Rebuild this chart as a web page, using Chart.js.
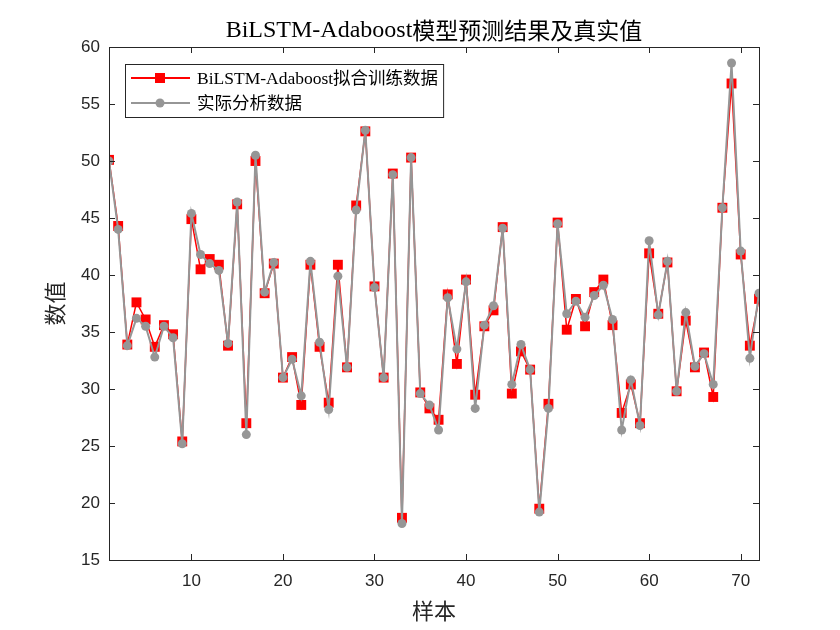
<!DOCTYPE html>
<html lang="zh">
<head>
    <meta charset="UTF-8">
    <title>BiLSTM-Adaboost模型预测结果及真实值</title>
    <style>
        body {
            margin: 0;
            background: #ffffff;
        }
        #wrap {
            width: 840px;
            height: 630px;
        }
    </style>
    <script src="https://cdn.jsdelivr.net/npm/chart.js"></script>
</head>
<body>

    <div id="wrap"><canvas id="resultChart"></canvas></div>

    <script>
        // sample numbers on the x axis
        const samples = Array.from({ length: 72 }, (_, i) => i + 1);

        // BiLSTM-Adaboost fitted values
        const predicted = [
            50.1, 44.3, 33.9, 37.6, 36.1, 33.7, 35.6, 34.8, 25.4, 44.9,
            40.5, 41.4, 40.9, 33.8, 46.2, 27.0, 50.0, 38.4, 41.0, 31.0,
            32.8, 28.6, 40.9, 33.7, 28.8, 40.9, 31.9, 46.1, 52.6, 39.0,
            31.0, 48.9, 18.7, 50.3, 29.7, 28.3, 27.3, 38.3, 32.2, 39.6,
            29.5, 35.5, 36.9, 44.2, 29.6, 33.3, 31.7, 19.5, 28.7, 44.6,
            35.2, 37.9, 35.5, 38.5, 39.6, 35.6, 27.9, 30.4, 27.0, 41.9,
            36.6, 41.1, 29.8, 36.0, 31.9, 33.2, 29.3, 45.9, 56.8, 41.8,
            33.8, 37.9
        ];

        // measured values
        const actual = [
            50.0, 44.0, 33.8, 36.2, 35.5, 32.8, 35.5, 34.5, 25.2, 45.4,
            41.8, 41.0, 40.4, 34.0, 46.4, 26.0, 50.5, 38.5, 41.1, 31.0,
            32.6, 29.4, 41.2, 34.1, 28.2, 39.9, 31.9, 45.7, 52.7, 38.9,
            31.0, 48.8, 18.2, 50.3, 29.6, 28.6, 26.4, 38.0, 33.5, 39.4,
            28.3, 35.6, 37.3, 44.1, 30.4, 33.9, 31.7, 19.2, 28.3, 44.5,
            36.6, 37.7, 36.3, 38.2, 39.1, 36.1, 26.4, 30.8, 26.8, 43.0,
            36.5, 41.2, 29.8, 36.7, 32.0, 33.1, 30.4, 45.9, 58.6, 42.1,
            32.7, 38.4
        ];

        const xTicks = [10, 20, 30, 40, 50, 60, 70];
        const yTicks = [15, 20, 25, 30, 35, 40, 45, 50, 55, 60];

        const titleLatin = 'BiLSTM-Adaboost';
        const titleCjk = '模型预测结果及真实值';

        const serif = '"Liberation Serif", "Noto Sans CJK SC", serif';
        const cjk = '"Noto Sans CJK SC", serif';
        const sans = '"Liberation Sans", Arial, sans-serif';
        const axisColor = '#262626';

        // title centred over the plot
        const titlePlugin = {
            id: 'plotTitle',
            afterDraw(chart) {
                const { ctx, chartArea: a } = chart;
                ctx.save();
                ctx.fillStyle = '#000000';
                ctx.textBaseline = 'middle';
                ctx.font = '24px ' + serif;
                const w1 = ctx.measureText(titleLatin).width;
                ctx.font = '23px ' + cjk;
                const w2 = ctx.measureText(titleCjk).width;
                const x0 = (a.left + a.right) / 2 - (w1 + w2) / 2;
                ctx.font = '24px ' + serif;
                ctx.fillText(titleLatin, x0, 31);
                ctx.font = '23px ' + cjk;
                ctx.fillText(titleCjk, x0 + w1, 30);
                ctx.restore();
            }
        };

        // box round the plot with inward ticks on all four sides
        const framePlugin = {
            id: 'frame',
            afterDraw(chart) {
                const { ctx, chartArea: a, scales } = chart;
                const len = 6;
                ctx.save();
                ctx.strokeStyle = axisColor;
                ctx.lineWidth = 1;
                ctx.strokeRect(a.left + 0.5, a.top + 0.5, a.right - a.left, a.bottom - a.top);
                ctx.beginPath();
                scales.x.ticks.forEach(t => {
                    const px = Math.round(scales.x.getPixelForValue(t.value)) + 0.5;
                    ctx.moveTo(px, a.bottom);
                    ctx.lineTo(px, a.bottom - len);
                    ctx.moveTo(px, a.top);
                    ctx.lineTo(px, a.top + len);
                });
                scales.y.ticks.forEach(t => {
                    const py = Math.round(scales.y.getPixelForValue(t.value)) + 0.5;
                    ctx.moveTo(a.left, py);
                    ctx.lineTo(a.left + len, py);
                    ctx.moveTo(a.right, py);
                    ctx.lineTo(a.right - len, py);
                });
                ctx.stroke();
                ctx.restore();
            }
        };

        // MATLAB style legend in the upper left corner of the plot
        const legendPlugin = {
            id: 'boxLegend',
            afterDraw(chart) {
                const { ctx, chartArea: a } = chart;
                const sets = [chart.data.datasets[1], chart.data.datasets[0]];
                const left = a.left + 16;
                const top = a.top + 17;
                const rowH = 25;
                ctx.save();
                ctx.font = '17.5px ' + serif;
                const textX = left + 72;
                const maxW = Math.max(...sets.map(d => ctx.measureText(d.label).width));
                const w = textX - left + maxW + 5;
                const h = rowH * sets.length + 3;
                ctx.fillStyle = '#ffffff';
                ctx.fillRect(left, top, w, h);
                ctx.strokeStyle = axisColor;
                ctx.lineWidth = 1;
                ctx.strokeRect(left + 0.5, top + 0.5, w, h);
                sets.forEach((d, i) => {
                    const y = top + 14 + i * rowH;
                    ctx.strokeStyle = d.borderColor;
                    ctx.lineWidth = 2;
                    ctx.beginPath();
                    ctx.moveTo(left + 6, y);
                    ctx.lineTo(left + 65, y);
                    ctx.stroke();
                    ctx.fillStyle = d.pointBackgroundColor;
                    ctx.beginPath();
                    if (d.pointStyle === 'rect') {
                        ctx.rect(left + 35 - 5, y - 5, 10, 10);
                    } else {
                        ctx.arc(left + 35, y, 4.5, 0, Math.PI * 2);
                    }
                    ctx.fill();
                    ctx.fillStyle = '#000000';
                    ctx.textBaseline = 'middle';
                    ctx.fillText(d.label, textX, y + 1);
                });
                ctx.restore();
            }
        };

        new Chart(document.getElementById('resultChart'), {
            type: 'line',
            data: {
                datasets: [
                    {
                        label: '实际分析数据',
                        data: samples.map((s, i) => ({ x: s, y: actual[i] })),
                        borderColor: '#969696',
                        borderWidth: 2,
                        pointStyle: 'circle',
                        pointRadius: 4.5,
                        pointBorderWidth: 0,
                        pointBackgroundColor: '#969696',
                        order: 0
                    },
                    {
                        label: 'BiLSTM-Adaboost拟合训练数据',
                        data: samples.map((s, i) => ({ x: s, y: predicted[i] })),
                        borderColor: '#ff0000',
                        borderWidth: 1.5,
                        pointStyle: 'rect',
                        pointRadius: 7,
                        pointBorderWidth: 0,
                        pointBackgroundColor: '#ff0000',
                        order: 1
                    }
                ]
            },
            options: {
                responsive: true,
                maintainAspectRatio: false,
                animation: false,
                layout: { padding: { right: 81, top: 47 } },
                plugins: {
                    legend: { display: false },
                    tooltip: { enabled: false },
                    title: { display: false }
                },
                scales: {
                    x: {
                        type: 'linear',
                        min: 1,
                        max: 72,
                        afterBuildTicks: s => { s.ticks = xTicks.map(v => ({ value: v })); },
                        afterFit: s => { s.height = 70; },
                        grid: { display: false, drawTicks: false },
                        border: { display: false },
                        ticks: {
                            color: axisColor,
                            font: { family: sans, size: 17 },
                            padding: 11,
                            maxRotation: 0
                        },
                        title: {
                            display: true,
                            text: '样本',
                            color: axisColor,
                            font: { family: serif, size: 22 },
                            padding: { top: 0, bottom: 4 }
                        }
                    },
                    y: {
                        min: 15,
                        max: 60,
                        afterBuildTicks: s => { s.ticks = yTicks.map(v => ({ value: v })); },
                        afterFit: s => { s.width = 109; },
                        grid: { display: false, drawTicks: false },
                        border: { display: false },
                        ticks: {
                            color: axisColor,
                            font: { family: sans, size: 17 },
                            padding: 9
                        },
                        title: {
                            display: true,
                            text: '数值',
                            color: axisColor,
                            font: { family: serif, size: 22 },
                            padding: { top: 44, bottom: 0 }
                        }
                    }
                }
            },
            plugins: [framePlugin, legendPlugin, titlePlugin]
        });
    </script>

</body>
</html>
